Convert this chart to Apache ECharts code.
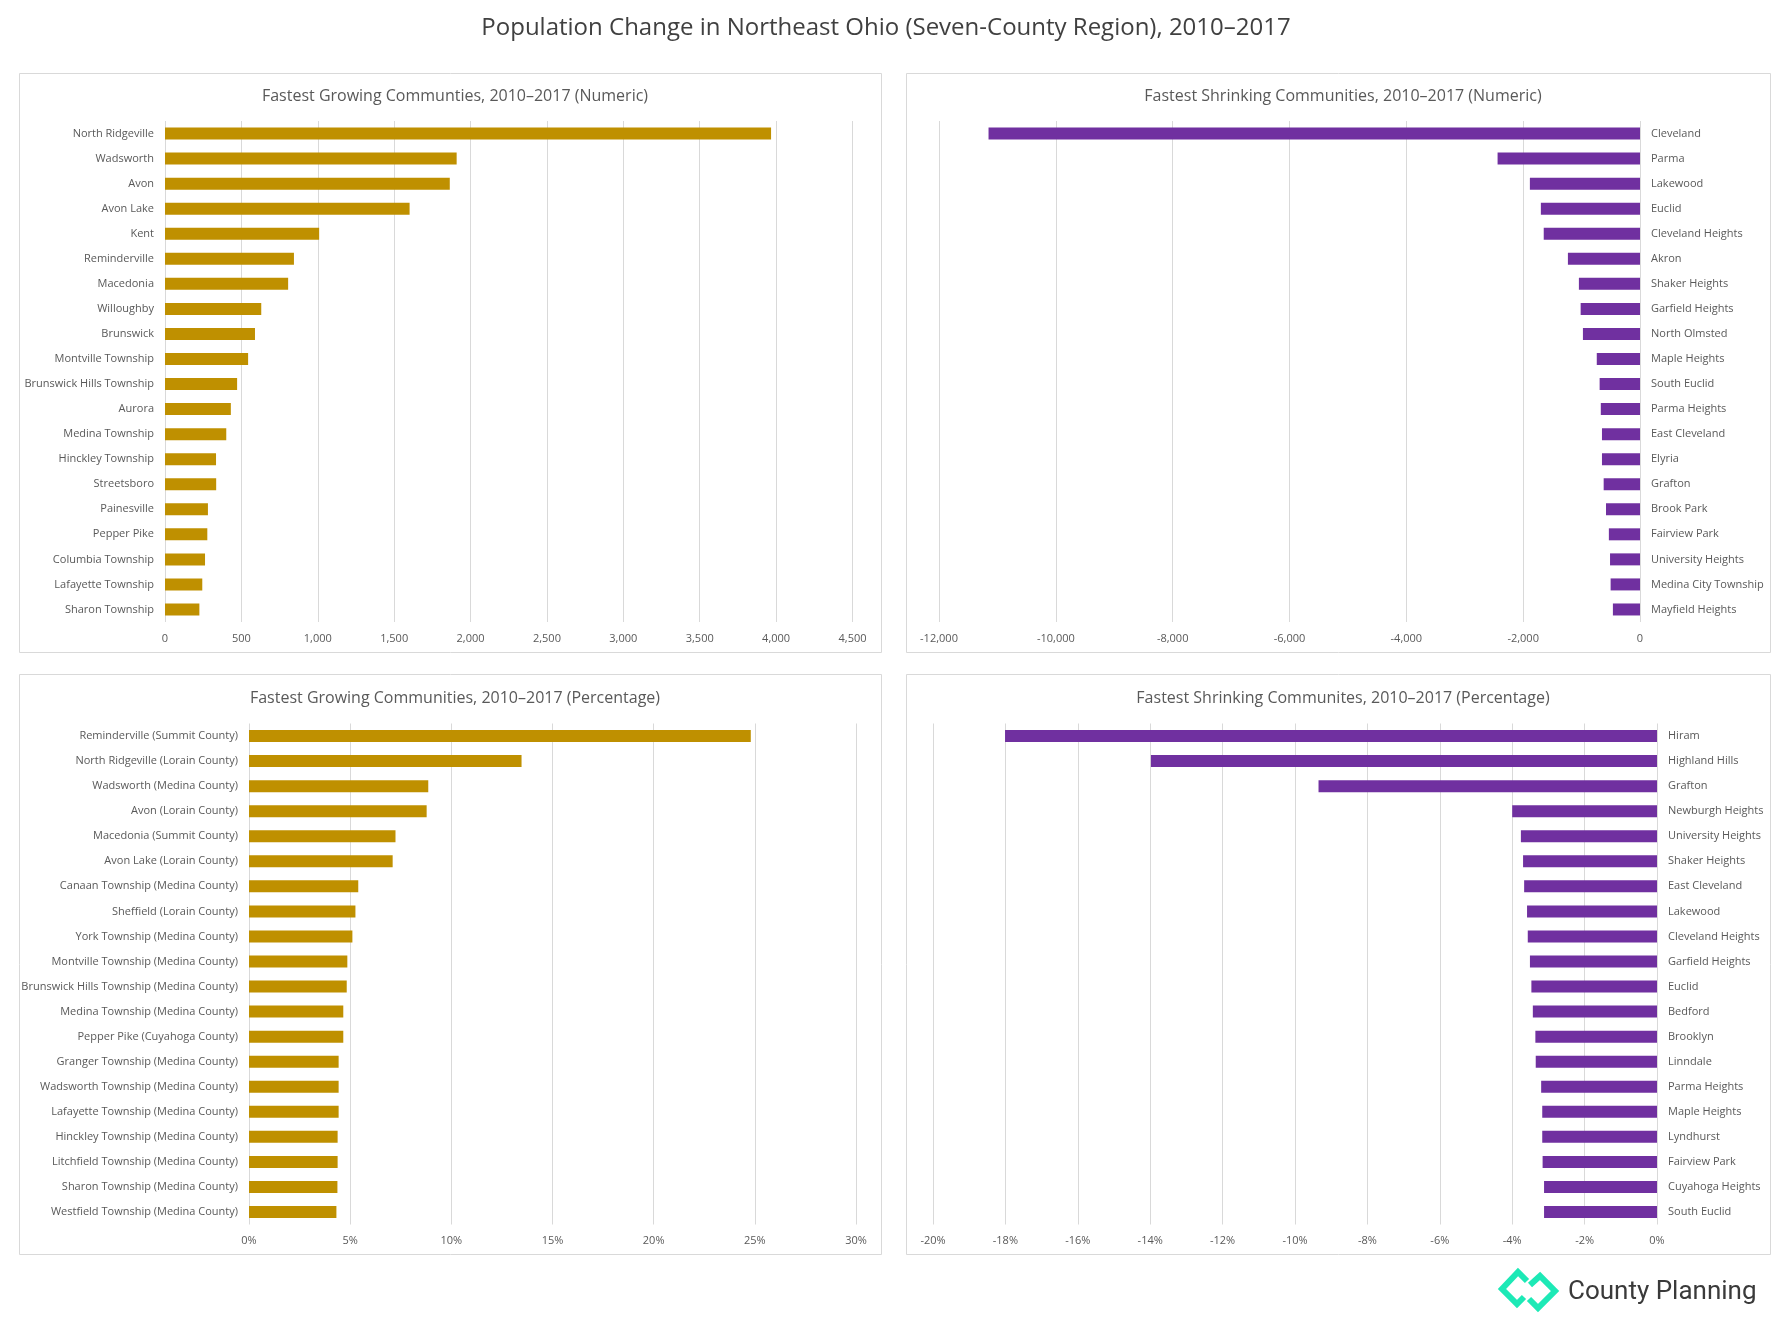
<!DOCTYPE html>
<html>
<head>
<meta charset="utf-8">
<script src="https://cdn.jsdelivr.net/npm/echarts@6/dist/echarts.min.js"></script>
<style>
html,body{margin:0;padding:0;background:#fff;}
#chart{width:1785px;height:1320px;}
</style>
</head>
<body>
<div id="chart"></div>
<script>
// ---- Data ----
const growNumCats = ["North Ridgeville","Wadsworth","Avon","Avon Lake","Kent","Reminderville","Macedonia","Willoughby","Brunswick","Montville Township","Brunswick Hills Township","Aurora","Medina Township","Hinckley Township","Streetsboro","Painesville","Pepper Pike","Columbia Township","Lafayette Township","Sharon Township"];
const growNumVals = [3967,1909,1864,1601,1009,844,806,630,589,544,472,431,401,334,335,281,277,262,244,225];

const shrinkNumCats = ["Cleveland","Parma","Lakewood","Euclid","Cleveland Heights","Akron","Shaker Heights","Garfield Heights","North Olmsted","Maple Heights","South Euclid","Parma Heights","East Cleveland","Elyria","Grafton","Brook Park","Fairview Park","University Heights","Medina City Township","Mayfield Heights"];
const shrinkNumVals = [-11152,-2438,-1885,-1697,-1648,-1234,-1046,-1016,-977,-740,-691,-671,-651,-651,-622,-582,-533,-513,-503,-464];

const growPctCats = ["Reminderville (Summit County)","North Ridgeville (Lorain County)","Wadsworth (Medina County)","Avon (Lorain County)","Macedonia (Summit County)","Avon Lake (Lorain County)","Canaan Township (Medina County)","Sheffield (Lorain County)","York Township (Medina County)","Montville Township (Medina County)","Brunswick Hills Township (Medina County)","Medina Township (Medina County)","Pepper Pike (Cuyahoga County)","Granger Township (Medina County)","Wadsworth Township (Medina County)","Lafayette Township (Medina County)","Hinckley Township (Medina County)","Litchfield Township (Medina County)","Sharon Township (Medina County)","Westfield Township (Medina County)"];
const growPctVals = [24.8,13.47,8.86,8.78,7.24,7.10,5.40,5.26,5.11,4.86,4.83,4.66,4.66,4.43,4.43,4.43,4.38,4.38,4.37,4.32];

const shrinkPctCats = ["Hiram","Highland Hills","Grafton","Newburgh Heights","University Heights","Shaker Heights","East Cleveland","Lakewood","Cleveland Heights","Garfield Heights","Euclid","Bedford","Brooklyn","Linndale","Parma Heights","Maple Heights","Lyndhurst","Fairview Park","Cuyahoga Heights","South Euclid"];
const shrinkPctVals = [-18.01,-13.98,-9.35,-4.0,-3.76,-3.70,-3.67,-3.59,-3.57,-3.51,-3.47,-3.43,-3.36,-3.35,-3.20,-3.17,-3.17,-3.16,-3.12,-3.12];

const growNumTicks = {min:0, max:4500, interval:500};
const shrinkNumTicks = {min:-12000, max:0, interval:2000};
const growPctTicks = {min:0, max:30, interval:5};
const shrinkPctTicks = {min:-20, max:0, interval:2};

const mainTitle = "Population Change in Northeast Ohio (Seven-County Region), 2010–2017";
const panelTitles = ["Fastest Growing Communties, 2010–2017 (Numeric)","Fastest Shrinking Communities, 2010–2017 (Numeric)","Fastest Growing Communities, 2010–2017 (Percentage)","Fastest Shrinking Communites, 2010–2017 (Percentage)"];

// ---- Styles ----
const FONT = "'Open Sans', 'Noto Sans', sans-serif";
const GOLD = "#BF9000", PURPLE = "#7030A0";
const GRID_C = "#d9d9d9", TXT = "#595959";

const panels = [
  {x:19, y:73, w:862, h:579},
  {x:906, y:73, w:864, h:579},
  {x:19, y:674, w:862, h:580},
  {x:906, y:674, w:864, h:580}
];
const grids = [
  {left:165, width:687.5, top:121, height:501},
  {left:939, width:701, top:121, height:501},
  {left:249, width:607, top:723.5, height:501},
  {left:933, width:724, top:723.5, height:501}
];

const cats = [growNumCats, shrinkNumCats, growPctCats, shrinkPctCats];
const vals = [growNumVals, shrinkNumVals, growPctVals, shrinkPctVals];
const ticks = [growNumTicks, shrinkNumTicks, growPctTicks, shrinkPctTicks];
const colors = [GOLD, PURPLE, GOLD, PURPLE];
const isPct = [false, false, true, true];

function fmtNum(v){ return v.toLocaleString('en-US'); }

const option = {
  animation:false,
  backgroundColor:'#fff',
  title: [{text:mainTitle, left:881, top:11, textAlign:'center',
           textStyle:{fontFamily:FONT, fontSize:24, fontWeight:'normal', color:'#404040'}}]
    .concat(panelTitles.map((t,i)=>({
      text:t, left:panels[i].x + panels[i].w/2, top: (i<2?83:685), textAlign:'center',
      textStyle:{fontFamily:FONT, fontSize:16, fontWeight:'normal', color:TXT}
    }))),
  grid: grids.map(g=>Object.assign({containLabel:false}, g)),
  xAxis: ticks.map((t,i)=>({
    type:'value', gridIndex:i, min:t.min, max:t.max, interval:t.interval,
    axisLine:{show:false}, axisTick:{show:false},
    splitLine:{show:true, lineStyle:{color:GRID_C, width:1}},
    axisLabel:{fontFamily:FONT, fontSize:11, color:TXT, margin:11,
      formatter: isPct[i] ? (v=>Math.round(v)+'%') : (v=>fmtNum(v))}
  })),
  yAxis: cats.map((c,i)=>({
    type:'category', gridIndex:i, data:c, inverse:true,
    position: (i%2===1) ? 'right' : 'left',
    axisLine:{show:false}, axisTick:{show:false},
    axisLabel:{fontFamily:FONT, fontSize:11, color:TXT, margin:11}
  })),
  series: vals.map((v,i)=>({
    type:'bar', xAxisIndex:i, yAxisIndex:i, data:v, barWidth:12,
    itemStyle:{color:colors[i]}, silent:true
  })),
  graphic: panels.map(p=>({
    type:'rect', shape:{x:p.x+0.5, y:p.y+0.5, width:p.w, height:p.h},
    style:{fill:'none', stroke:'#d9d9d9', lineWidth:1}, z:-1
  })).concat([
    {type:'polyline', shape:{points:[[1527,1281],[1518,1272],[1502,1289],[1517,1304],[1524,1297]]},
     style:{stroke:'#1DE9B6', lineWidth:6, fill:'none', lineJoin:'miter'}},
    {type:'polyline', shape:{points:[[1530,1285],[1540,1276],[1555,1291],[1538,1308],[1529,1299]]},
     style:{stroke:'#1DE9B6', lineWidth:6, fill:'none', lineJoin:'miter'}},
    {type:'text', left:1568, top:1279,
     style:{text:'County Planning', font:"26px Roboto, 'DejaVu Sans', sans-serif", fill:'#3a3a3a', letterSpacing:0.8}}
  ])
};

const chart = echarts.init(document.getElementById('chart'));
chart.setOption(option);
</script>
</body>
</html>
